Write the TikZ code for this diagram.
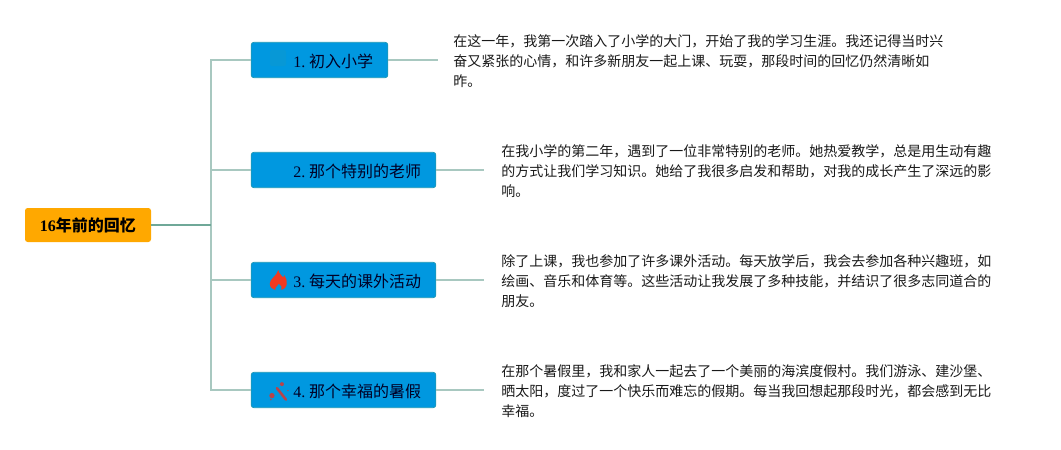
\documentclass[tikz,border=0pt]{standalone}
\usepackage{fontspec}
\setmainfont{Liberation Serif}
\newfontfamily\cjk{Noto Sans CJK SC}
\newfontfamily\cjkbold{Noto Sans CJK SC Bold}
\usepackage{xcolor}
\usepackage{tikz}
\definecolor{rootfill}{HTML}{FFA800}
\definecolor{boxfill}{HTML}{0098E0}
\definecolor{boxline}{HTML}{1F98B8}
\definecolor{branch}{HTML}{A8C8C0}
\definecolor{trunk}{HTML}{6FA898}
\definecolor{flame}{HTML}{F03A22}
\definecolor{wand}{HTML}{B8444A}
\def\flameicon{\tikz[x=0.75pt,y=-0.75pt,baseline=-.5ex]{
	\fill[flame] (0,-10)..controls (1,-6) and (3,-5)..(4.5,-3)..controls (5.5,-2.5) and (6,-3.5)..(6,-5)..controls (8,-2) and (9,1)..(8.5,4)..controls (8,7.5) and (5.5,9.5)..(3,10)..controls (4.5,7.5) and (3,5)..(0.5,3.5)..controls (0,5.5) and (-4,7.5)..(-3,10)..controls (-6,9.5) and (-8.5,7)..(-8.5,3.5)..controls (-8.5,-1) and (-1.5,-4)..(0,-10)--cycle;}
	}
\def\wandicon{\tikz[x=0.75pt,y=-0.75pt,baseline=-.5ex]{
	\draw[wand,line width=1.9pt,line cap=round] (-2,-4.5)--(7,7);
	\fill[wand] (-7,3) circle (2pt);
	\fill[wand] (3,-8.5) circle (1.5pt);
	\fill[wand] (-8,7) circle (0.7pt);
	\fill[wand] (9,-2) circle (0.6pt);}
	}
\tikzset{
	rootbox/.style={fill=rootfill,rounded corners=2pt,minimum height=25.5pt,inner sep=0pt,font=\bfseries\fontsize{12}{12}\selectfont},
	topicbox/.style={fill=boxfill,draw=boxline,line width=0.6pt,rounded corners=2pt,minimum height=26.5pt,inner sep=0pt},
	topiclabel/.style={anchor=west,inner sep=0pt,font=\fontsize{12}{12}\selectfont,text=black!85!blue},
	bodytext/.style={align=left,anchor=west,font=\cjk\fontsize{10.5}{15}\selectfont,text=black!90},
	branchline/.style={draw=branch,line width=1pt},
	trunkline/.style={draw=trunk,line width=1pt},
}
\begin{document}
\begin{tikzpicture}[x=0.75pt,y=-0.75pt]
	\useasboundingbox (0,0) rectangle (1061,450);
	% root and topics
	\node[rootbox,minimum width=94.5pt] (root) at (88,225) {\raisebox{-0.6pt}{16{\cjkbold 年前的回忆}}};
	\node[topicbox,minimum width=102.5pt] (first) at (319.5,60) {};
	\node[topicbox,minimum width=138.5pt] (second) at (343.5,170) {};
	\node[topicbox,minimum width=138.5pt] (third) at (343.5,280) {};
	\node[topicbox,minimum width=138.5pt] (fourth) at (343.5,390) {};
	% labels and icons inside the topics
	\fill[boxline!45!boxfill,rounded corners=1pt,opacity=0.5] (270,50) rectangle (286,66);
	\node[topiclabel] (firstlabel) at (293,61) {1.\kern-0.2pt\ {\cjk 初入小学}};
	\node[topiclabel] (secondlabel) at (293,171) {2.\kern-0.2pt\ {\cjk 那个特别的老师}};
	\node[topiclabel] (thirdlabel) at (293,281) {3.\kern-0.2pt\ {\cjk 每天的课外活动}};
	\node[topiclabel] (fourthlabel) at (293,391) {4.\kern-0.2pt\ {\cjk 那个幸福的暑假}};
	\node[inner sep=0pt] (fire) at (278.5,280) {\flameicon};
	\node[inner sep=0pt] (magic) at (279,391.5) {\wandicon};
	% texts on the right
	\node[bodytext,inner xsep=11.25pt] (firsttext) at (438,61) {在这一年，我第一次踏入了小学的大门，开始了我的学习生涯。我还记得当时兴\\奋又紧张的心情，和许多新朋友一起上课、玩耍，那段时间的回忆仍然清晰如\\昨。};
	\node[bodytext,inner xsep=12.75pt] (secondtext) at (484,171) {在我小学的第二年，遇到了一位非常特别的老师。她热爱教学，总是用生动有趣\\的方式让我们学习知识。她给了我很多启发和帮助，对我的成长产生了深远的影\\响。};
	\node[bodytext,inner xsep=12.75pt] (thirdtext) at (484,281) {除了上课，我也参加了许多课外活动。每天放学后，我会去参加各种兴趣班，如\\绘画、音乐和体育等。这些活动让我发展了多种技能，并结识了很多志同道合的\\朋友。};
	\node[bodytext,inner xsep=12.75pt] (fourthtext) at (484,391) {在那个暑假里，我和家人一起去了一个美丽的海滨度假村。我们游泳、建沙堡、\\晒太阳，度过了一个快乐而难忘的假期。每当我回想起那段时光，都会感到无比\\幸福。};
	% connectors
	\coordinate (fork) at (211,225);
	\draw[branchline] (fork)--(211,60)--(first.west);
	\draw[branchline] (fork)--(211,170)--(second.west);
	\draw[branchline] (fork)--(211,280)--(third.west);
	\draw[branchline] (fork)--(211,390)--(fourth.west);
	\draw[trunkline] (root.east)--(fork);
	\draw[branchline] (first.east)--(438,60);
	\draw[branchline] (second.east)--(484,170);
	\draw[branchline] (third.east)--(484,280);
	\draw[branchline] (fourth.east)--(484,390);
\end{tikzpicture}
\end{document}
